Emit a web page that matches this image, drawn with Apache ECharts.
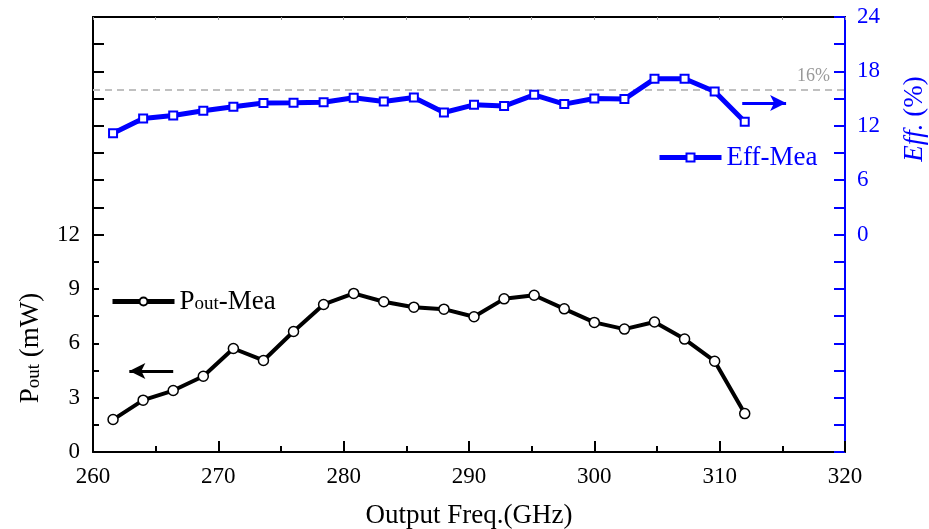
<!DOCTYPE html>
<html>
<head>
<meta charset="utf-8">
<script src="https://cdn.jsdelivr.net/npm/echarts@6/dist/echarts.min.js"></script>
<style>html,body{margin:0;padding:0;background:#fff}#c{width:929px;height:529px}</style>
</head>
<body>
<div id="c"></div>
<script>
// ---- data ----
var freq = [261.6, 264.0, 266.4, 268.8, 271.2, 273.6, 276.0, 278.4, 280.8, 283.2, 285.6, 288.0, 290.4, 292.8, 295.2, 297.6, 300.0, 302.4, 304.8, 307.2, 309.6, 312.0];
var pout = [1.79, 2.86, 3.39, 4.18, 5.71, 5.05, 6.65, 8.14, 8.75, 8.29, 7.99, 7.88, 7.46, 8.45, 8.65, 7.90, 7.15, 6.78, 7.17, 6.23, 5.01, 2.12];
var eff  = [11.18, 12.8, 13.13, 13.65, 14.09, 14.5, 14.53, 14.6, 15.08, 14.67, 15.12, 13.46, 14.31, 14.17, 15.41, 14.39, 15.0, 14.94, 17.18, 17.18, 15.78, 12.43];
var leftLabels = [0, 3, 6, 9, 12];
var rightLabels = [0, 6, 12, 18, 24];
var effRef = 16;
var poutArrow = [[266.4, 4.47], [262.9, 4.47]];
var effArrow = [[311.8, 14.5], [315.3, 14.5]];

var FONT = '"Liberation Serif","Times New Roman",serif';
var BLUE = '#0000ff';

function pair(xs, ys) { return xs.map(function (x, i) { return [x, ys[i]]; }); }

var chart = echarts.init(document.getElementById('c'), null, {renderer: 'canvas'});
chart.setOption({
  animation: false,
  backgroundColor: '#fff',
  grid: [
    {left: 93, right: 84, top: 17, bottom: 77, containLabel: false, outerBoundsMode: 'none'},
    {left: 93, right: 84, top: 17, height: 217.5, containLabel: false, outerBoundsMode: 'none'}
  ],
  xAxis: [{
    gridIndex: 0, type: 'value', position: 'bottom', min: 260, max: 320, interval: 10,
    name: 'Output Freq.(GHz)', nameLocation: 'middle', nameGap: 50,
    nameTextStyle: {fontFamily: FONT, fontSize: 27, color: '#000'},
    axisLine: {onZero: false, lineStyle: {color: '#000', width: 2}},
    axisTick: {inside: true, length: 11, lineStyle: {color: '#000', width: 2}},
    minorTick: {show: true, splitNumber: 2, length: 6, lineStyle: {color: '#000', width: 2}},
    axisLabel: {fontFamily: FONT, fontSize: 23, color: '#000', margin: 13},
    splitLine: {show: false}
  }, {
    gridIndex: 0, type: 'value', position: 'top', min: 260, max: 320, interval: 5,
    axisLine: {onZero: false, lineStyle: {color: '#000', width: 2}},
    axisTick: {inside: true, length: 3, lineStyle: {color: '#999', width: 1}},
    axisLabel: {show: false}, splitLine: {show: false}
  }, {
    gridIndex: 1, type: 'value', min: 260, max: 320, show: false
  }],
  yAxis: [{
    gridIndex: 0, type: 'value', position: 'left', min: 0, max: 24, interval: 1.5,
    axisLine: {show: true, onZero: false, lineStyle: {color: '#000', width: 2}},
    axisTick: {inside: true, length: 6, lineStyle: {color: '#000', width: 2}},
    axisLabel: {fontFamily: FONT, fontSize: 23, color: '#000', margin: 13,
      formatter: function (v) { return leftLabels.indexOf(v) >= 0 ? String(v) : ''; }},
    splitLine: {show: false}
  }, {
    gridIndex: 0, type: 'value', position: 'right', min: -24, max: 24, interval: 3,
    axisLine: {show: true, onZero: false, lineStyle: {color: BLUE, width: 2}},
    axisTick: {inside: true, length: 11, lineStyle: {color: BLUE, width: 2}},
    axisLabel: {fontFamily: FONT, fontSize: 23, color: BLUE, margin: 12,
      formatter: function (v) { return rightLabels.indexOf(v) >= 0 ? String(v) : ''; }},
    splitLine: {show: false}
  }, {
    gridIndex: 1, type: 'value', position: 'left', min: 12, max: 24, interval: 1.5,
    axisLine: {show: false, onZero: false},
    axisTick: {show: true, inside: true, length: 11, lineStyle: {color: '#000', width: 2}},
    axisLabel: {show: false}, splitLine: {show: false}
  }],
  legend: [{
    data: ['Pout-Mea'], left: 110, top: 288, padding: 0,
    itemWidth: 62, itemHeight: 10, itemGap: 0,
    lineStyle: {width: 5},
    formatter: function () { return '{a|P}{b|out}{a|-Mea}'; },
    textStyle: {fontFamily: FONT, color: '#000',
      rich: {a: {fontFamily: FONT, fontSize: 27, color: '#000'},
             b: {fontFamily: FONT, fontSize: 19, color: '#000', padding: [6, 0, 0, 0]}}}
  }, {
    data: ['Eff-Mea'], left: 657, top: 144, padding: 0,
    itemWidth: 62, itemHeight: 10, itemGap: 0,
    lineStyle: {width: 5},
    textStyle: {fontFamily: FONT, fontSize: 27, color: BLUE}
  }],
  graphic: [{
    type: 'text', x: 31, y: 348, rotation: Math.PI / 2,
    style: {text: '{a|P}{b|out}{a| (mW)}', align: 'center', verticalAlign: 'middle',
      rich: {a: {fontFamily: FONT, fontSize: 27, fill: '#000'},
             b: {fontFamily: FONT, fontSize: 19, fill: '#000', padding: [6, 0, 0, 0]}}}
  }, {
    type: 'text', x: 915, y: 119, rotation: Math.PI / 2,
    style: {text: '{i|Eff.}{n| (%)}', align: 'center', verticalAlign: 'middle',
      rich: {i: {fontFamily: FONT, fontSize: 27, fontStyle: 'italic', fill: BLUE},
             n: {fontFamily: FONT, fontSize: 27, fill: BLUE}}}
  }],
  series: [{
    name: 'Pout-Mea', type: 'line', xAxisIndex: 0, yAxisIndex: 0,
    data: pair(freq, pout),
    symbol: 'circle', symbolSize: 10,
    lineStyle: {color: '#000', width: 4},
    itemStyle: {color: '#fff', borderColor: '#000', borderWidth: 1.5},
    z: 5,
    markLine: {
      silent: true, symbol: ['none', 'arrow'], symbolSize: [12, 16],
      lineStyle: {color: '#000', width: 3, type: 'solid'},
      label: {show: false},
      data: [[{coord: poutArrow[0]}, {coord: poutArrow[1]}]]
    }
  }, {
    name: 'Eff-Mea', type: 'line', xAxisIndex: 0, yAxisIndex: 1,
    data: pair(freq, eff),
    symbol: 'rect', symbolSize: 8,
    lineStyle: {color: BLUE, width: 5},
    itemStyle: {color: '#fff', borderColor: BLUE, borderWidth: 2},
    z: 5,
    markLine: {
      silent: true, symbol: ['none', 'none'],
      data: [
        {yAxis: effRef,
         lineStyle: {color: '#c0c0c0', width: 2, type: [7, 5]},
         label: {show: true, formatter: '16%', position: 'insideEndTop', distance: [15, 4],
                 fontFamily: FONT, fontSize: 18, color: '#999'}},
        [{coord: effArrow[0], symbol: 'none'},
         {coord: effArrow[1], symbol: 'arrow', symbolSize: [12, 16],
          lineStyle: {color: BLUE, width: 3, type: 'solid'}, label: {show: false}}]
      ]
    }
  }]
});
</script>
</body>
</html>
